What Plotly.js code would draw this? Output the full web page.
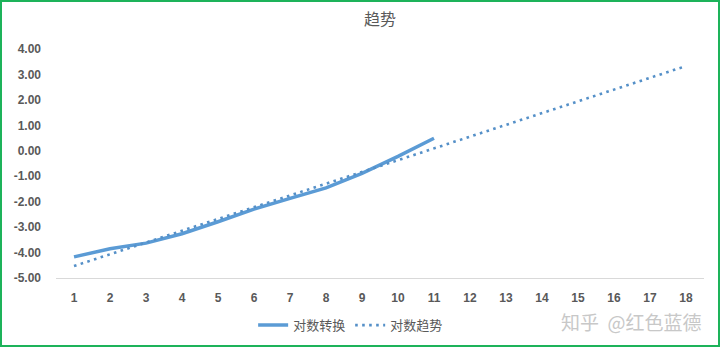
<!DOCTYPE html>
<html>
<head>
<meta charset="utf-8">
<script src="https://cdn.plot.ly/plotly-3.0.1.min.js"></script>
<style>
html,body{margin:0;padding:0;background:#fff;}
#wrap{width:720px;height:347px;box-sizing:border-box;border:2px solid #1db35a;position:relative;overflow:hidden;}
#chart{position:absolute;left:-2px;top:-2px;width:720px;height:347px;}
</style>
</head>
<body>
<div id="wrap"><div id="chart"></div></div>
<script>
// categories
const categories = [1,2,3,4,5,6,7,8,9,10,11,12,13,14,15,16,17,18];
// 对数转换 (log transform), categories 1..11
const logX = [1,2,3,4,5,6,7,8,9,10,11];
const logValues = [-4.17,-3.85,-3.63,-3.26,-2.79,-2.29,-1.87,-1.46,-0.89,-0.22,0.49];
// 对数趋势 (linear trend), read at its end points
const trendX = [1,18];
const trendValues = [-4.53,3.33];
// y tick labels
const yTicks = [-5,-4,-3,-2,-1,0,1,2,3,4];
const yTickText = ['-5.00','-4.00','-3.00','-2.00','-1.00','0.00','1.00','2.00','3.00','4.00'];

const blue = '#5b9bd5';
const grey = '#595959';
const font = '"Liberation Sans","Noto Sans CJK SC",sans-serif';

const traces = [
  {x: logX, y: logValues, type:'scatter', mode:'lines', name:'对数转换',
   line:{color: blue, width:3.5}},
  {x: trendX, y: trendValues, type:'scatter', mode:'lines', name:'对数趋势',
   line:{color: '#5590c8', width:2.6, dash:'2.6px,4.4px'}}
];

const layout = {
  width:720, height:347,
  margin:{l:56, r:16, t:49, b:69},
  paper_bgcolor:'rgba(0,0,0,0)', plot_bgcolor:'#fff',
  title:{text:'趋势', x:0.5, xref:'paper', y:0.945, yref:'container', yanchor:'middle',
         font:{family:'"Noto Sans CJK SC",sans-serif', size:16, color:grey}},
  xaxis:{range:[0.5,18.5], tickmode:'array', tickvals:categories, ticktext:categories.map(String),
         showgrid:false, zeroline:false, showline:true, linecolor:'#d9d9d9', linewidth:1,
         ticks:'', ticklabelstandoff:9,
         tickfont:{family:font, size:12, color:grey, weight:'bold'}, fixedrange:true},
  yaxis:{range:[-5,4], tickmode:'array', tickvals:yTicks, ticktext:yTickText,
         showgrid:false, zeroline:false, showline:false, ticks:'', ticklabelstandoff:14,
         tickfont:{family:font, size:12, color:grey, weight:'bold'}, fixedrange:true},
  showlegend:true,
  legend:{orientation:'h', xref:'container', yref:'container', x:0.487, xanchor:'center',
          y:0.063, yanchor:'middle', font:{family:'"Noto Sans CJK SC",sans-serif', size:13, color:grey},
          itemwidth:30, tracegroupgap:0, bgcolor:'rgba(0,0,0,0)'},
  annotations:[{text:'知乎  @红色蓝德', xref:'paper', yref:'paper', x:1.0, y:-0.19,
                xanchor:'right', yanchor:'middle', showarrow:false,
                font:{family:'"Noto Sans CJK SC",sans-serif', size:19, color:'#c8c8c8'}}]
};

Plotly.newPlot('chart', traces, layout, {displayModeBar:false, staticPlot:true});
</script>
</body>
</html>
